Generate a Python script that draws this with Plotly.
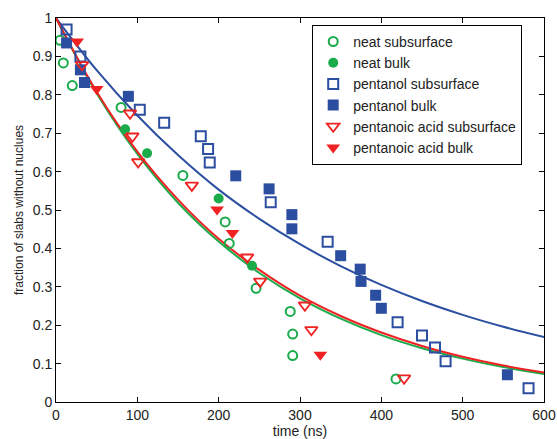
import plotly.graph_objects as go

# ---- data ----
neat_sub_t = [5, 9, 20, 80, 156, 208, 213, 246, 288, 291, 291, 418]
neat_sub_y = [0.942, 0.883, 0.824, 0.767, 0.590, 0.469, 0.413, 0.296, 0.236, 0.177, 0.121, 0.060]

neat_bulk_t = [85, 112, 200, 241]
neat_bulk_y = [0.710, 0.648, 0.530, 0.355]

pent_sub_t = [13, 30, 103, 133, 178, 187, 189, 264, 334, 420, 450, 466, 479, 581]
pent_sub_y = [0.970, 0.900, 0.761, 0.727, 0.692, 0.659, 0.624, 0.520, 0.417, 0.208, 0.173, 0.142, 0.106, 0.036]

pent_bulk_t = [13, 30, 35, 89, 221, 262, 290, 290, 350, 374, 375, 393, 400, 555]
pent_bulk_y = [0.935, 0.865, 0.832, 0.796, 0.589, 0.555, 0.488, 0.451, 0.381, 0.346, 0.314, 0.278, 0.244, 0.071]

acid_sub_t = [32, 91, 94, 101, 167, 235, 251, 306, 314, 428]
acid_sub_y = [0.878, 0.752, 0.692, 0.625, 0.564, 0.377, 0.314, 0.252, 0.188, 0.062]

acid_bulk_t = [26, 50, 198, 217, 325]
acid_bulk_y = [0.939, 0.815, 0.501, 0.440, 0.123]

fit_t = [0, 50, 100, 150, 200, 250, 300, 350, 400, 450, 500, 550, 600]
fit_neat = [1.0, 0.804, 0.646, 0.519, 0.418, 0.336, 0.270, 0.217, 0.174, 0.140, 0.113, 0.091, 0.073]
fit_pent = [1.0, 0.864, 0.746, 0.643, 0.553, 0.477, 0.411, 0.354, 0.305, 0.263, 0.227, 0.196, 0.169]
fit_acid = [1.0, 0.808, 0.652, 0.527, 0.425, 0.344, 0.277, 0.224, 0.181, 0.146, 0.118, 0.095, 0.077]

x_ticks = [0, 100, 200, 300, 400, 500, 600]
y_ticks = [0, 0.1, 0.2, 0.3, 0.4, 0.5, 0.6, 0.7, 0.8, 0.9, 1]

GREEN = "#1aab4b"
BLUE = "#2b4ea0"
RED = "#ee2222"

fig = go.Figure()

# fit lines
for ys, col in [(fit_neat, GREEN), (fit_pent, BLUE), (fit_acid, RED)]:
    fig.add_trace(go.Scatter(x=fit_t, y=ys, mode="lines", line=dict(color=col, width=2, shape="spline"),
                             showlegend=False, hoverinfo="skip"))

fig.add_trace(go.Scatter(x=neat_sub_t, y=neat_sub_y, mode="markers", name="neat subsurface",
                         marker=dict(symbol="circle-open", size=9, color=GREEN, line=dict(width=2, color=GREEN))))
fig.add_trace(go.Scatter(x=neat_bulk_t, y=neat_bulk_y, mode="markers", name="neat bulk",
                         marker=dict(symbol="circle", size=10, color=GREEN, line=dict(width=0))))
fig.add_trace(go.Scatter(x=pent_sub_t, y=pent_sub_y, mode="markers", name="pentanol subsurface",
                         marker=dict(symbol="square-open", size=10, color=BLUE, line=dict(width=2, color=BLUE))))
fig.add_trace(go.Scatter(x=pent_bulk_t, y=pent_bulk_y, mode="markers", name="pentanol bulk",
                         marker=dict(symbol="square", size=11, color=BLUE, line=dict(width=0))))
fig.add_trace(go.Scatter(x=acid_sub_t, y=acid_sub_y, mode="markers", name="pentanoic acid subsurface",
                         marker=dict(symbol="triangle-down-open", size=11, color=RED, line=dict(width=1.8, color=RED))))
fig.add_trace(go.Scatter(x=acid_bulk_t, y=acid_bulk_y, mode="markers", name="pentanoic acid bulk",
                         marker=dict(symbol="triangle-down", size=12, color=RED, line=dict(width=0))))

axis_common = dict(showline=True, linecolor="black", linewidth=1, mirror="ticks", ticks="inside",
                   ticklen=5, tickcolor="black", showgrid=False, zeroline=False, automargin=False,
                   tickfont=dict(size=14, color="#222"))

fig.update_layout(
    width=557, height=439,
    margin=dict(l=56, r=13, t=18, b=37, autoexpand=False),
    paper_bgcolor="white", plot_bgcolor="white",
    font=dict(family="Liberation Sans, Arial, sans-serif", size=14, color="#222"),
    xaxis=dict(range=[0, 600], tickvals=x_ticks, title=dict(text="time (ns)", font=dict(size=14), standoff=18),
               **axis_common),
    yaxis=dict(range=[0, 1], tickvals=y_ticks,
               title=dict(text="fraction of slabs without nuclues",
                          font=dict(size=12, family="Liberation Sans Narrow, Liberation Sans, sans-serif"),
                          standoff=6),
               **axis_common),
    legend=dict(x=0.525, y=0.982, xanchor="left", yanchor="top", bgcolor="white",
                bordercolor="black", borderwidth=1, font=dict(size=14, color="#222"),
                tracegroupgap=0),
)

fig.write_html("out.html")
